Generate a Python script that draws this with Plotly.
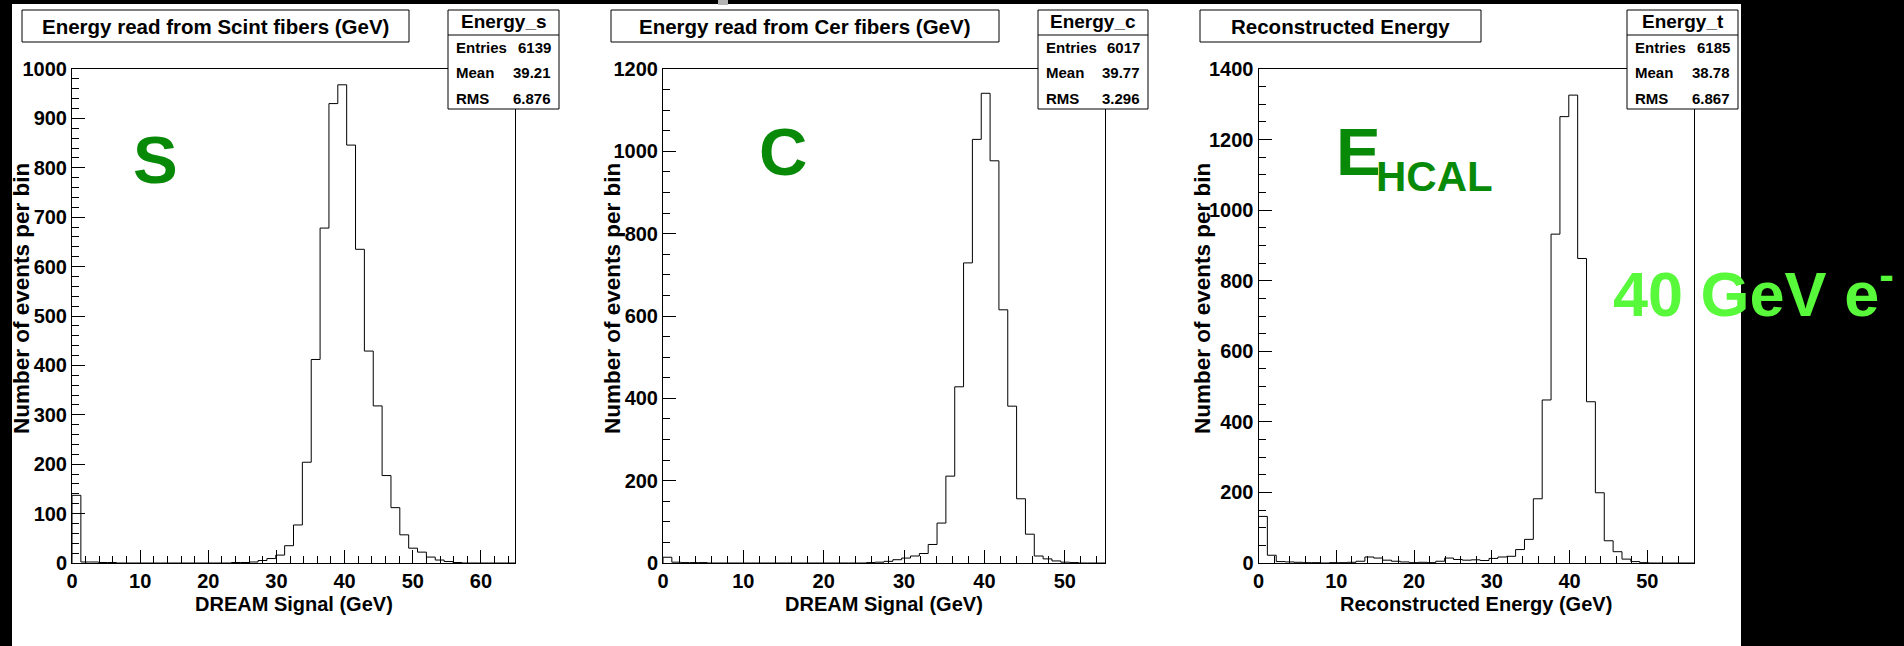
import plotly.graph_objects as go

W, H = 1904, 646
FONT = "Liberation Sans, Arial, Helvetica, sans-serif"

# ---- histogram contents (50 bins each) ----
scint_lo, scint_width = 0.0, 1.3
scint_counts = [137, 2, 2, 1, 1, 0, 0, 0, 0, 0,
                0, 0, 0, 0, 0, 0, 0, 0, 1, 1,
                2, 5, 9, 16, 35, 77, 204, 412, 678, 930,
                968, 846, 635, 429, 318, 177, 112, 57, 30, 22,
                12, 6, 3, 1, 0, 0, 0, 0, 0, 0]

cer_lo, cer_width = 0.0, 1.1
cer_counts = [14, 2, 1, 1, 1, 0, 0, 0, 0, 0,
              0, 0, 0, 0, 0, 0, 0, 0, 0, 0,
              0, 0, 0, 1, 2, 4, 8, 12, 17, 23,
              45, 97, 211, 428, 729, 1029, 1141, 977, 615, 381,
              156, 70, 17, 10, 5, 2, 1, 0, 0, 0]

tot_lo, tot_width = 0.0, 1.14
tot_counts = [132, 22, 4, 3, 2, 1, 1, 0, 1, 1,
              2, 5, 17, 14, 8, 5, 3, 1, 2, 1,
              5, 14, 10, 8, 9, 7, 13, 17, 19, 38,
              67, 182, 462, 932, 1265, 1326, 863, 457, 199, 63,
              32, 11, 4, 1, 0, 0, 0, 0, 0, 0]

# ---- panel text ----
titles = ["Energy read from Scint fibers (GeV)",
          "Energy read from Cer fibers (GeV)",
          "Reconstructed Energy"]
stat_names = ["Energy_s", "Energy_c", "Energy_t"]
stat_entries = ["6139", "6017", "6185"]
stat_means = ["39.21", "39.77", "38.78"]
stat_rms = ["6.876", "3.296", "6.867"]
x_titles = ["DREAM Signal (GeV)", "DREAM Signal (GeV)", "Reconstructed Energy (GeV)"]
y_title = "Number of events per bin"
x_ranges = [[0, 65], [0, 55], [0, 56]]
y_ranges = [[0, 1000], [0, 1200], [0, 1400]]
y_dticks = [100, 200, 200]
y_minor = [20, 50, 50]


def px(x):
    return x / W


def py(y):
    return 1 - y / H


def step_xy(lo, width, counts):
    edges = [lo + i * width for i in range(len(counts) + 1)]
    xs = [edges[0]] + edges[:-1] + [edges[-1], edges[-1]]
    ys = [0] + list(counts) + [counts[-1], 0]
    return xs, ys


# pixel layout of the three pads
frames_x = [(72, 515), (663, 1105), (1258.5, 1694)]
frame_top, frame_bot = 69, 563
title_boxes = [(22, 409), (611, 999), (1200, 1481)]
stat_boxes = [(448, 559), (1038, 1148), (1627, 1738)]
ytitle_x = [21, 612, 1202]

fig = go.Figure()
hists = [(scint_lo, scint_width, scint_counts),
         (cer_lo, cer_width, cer_counts),
         (tot_lo, tot_width, tot_counts)]
for i, (lo, wd, cnt) in enumerate(hists):
    xs, ys = step_xy(lo, wd, cnt)
    sfx = "" if i == 0 else str(i + 1)
    fig.add_trace(go.Scatter(x=xs, y=ys, mode="lines", line_shape="hv",
                             line=dict(color="black", width=1),
                             xaxis="x" + sfx, yaxis="y" + sfx,
                             showlegend=False, hoverinfo="skip"))

tickfont = dict(family=FONT, size=20, color="black", weight="bold")
layout = dict(width=W, height=H,
              margin=dict(l=0, r=0, t=0, b=0, pad=0, autoexpand=False),
              paper_bgcolor="black", plot_bgcolor="white", autosize=False,
              showlegend=False)
for i in range(3):
    sfx = "" if i == 0 else str(i + 1)
    x0, x1 = frames_x[i]
    layout["xaxis" + sfx] = dict(
        domain=[px(x0), px(x1)], range=x_ranges[i], anchor="y" + sfx,
        showline=True, mirror=True, linecolor="black", linewidth=1,
        ticks="inside", ticklen=13, tickwidth=1, tickcolor="black",
        dtick=10, tick0=0, showgrid=False, zeroline=False, tickfont=tickfont,
        automargin=False,
        minor=dict(ticks="inside", ticklen=7, dtick=2, tickcolor="black",
                   showgrid=False))
    layout["yaxis" + sfx] = dict(
        domain=[py(frame_bot), py(frame_top)], range=y_ranges[i],
        anchor="x" + sfx,
        showline=True, mirror=True, linecolor="black", linewidth=1,
        ticks="inside", ticklen=13, tickwidth=1, tickcolor="black",
        dtick=y_dticks[i], tick0=0, showgrid=False, zeroline=False,
        tickfont=tickfont, automargin=False,
        minor=dict(ticks="inside", ticklen=7, dtick=y_minor[i],
                   tickcolor="black", showgrid=False))
fig.update_layout(**layout)

shapes = []
# white canvas inside the black border
shapes.append(dict(type="rect", xref="paper", yref="paper",
                   x0=px(12), x1=px(1741), y0=py(646), y1=py(4),
                   fillcolor="white", line=dict(width=0), layer="below"))
shapes.append(dict(type="rect", xref="paper", yref="paper",
                   x0=px(718), x1=px(728), y0=py(5), y1=py(0),
                   fillcolor="#b4b4b4", line=dict(width=0), layer="below"))

ann = []
for i in range(3):
    bx0, bx1 = title_boxes[i]
    shapes.append(dict(type="rect", xref="paper", yref="paper",
                       x0=px(bx0), x1=px(bx1), y0=py(42), y1=py(10),
                       fillcolor="white", line=dict(color="black", width=1),
                       layer="above"))
    ann.append(dict(text=titles[i], x=px((bx0 + bx1) / 2), y=py(26),
                    xanchor="center", yanchor="middle",
                    font=dict(family=FONT, size=20.5, color="black", weight="bold")))
    sx0, sx1 = stat_boxes[i]
    shapes.append(dict(type="rect", xref="paper", yref="paper",
                       x0=px(sx0), x1=px(sx1), y0=py(109), y1=py(10),
                       fillcolor="white", line=dict(color="black", width=1),
                       layer="above"))
    shapes.append(dict(type="line", xref="paper", yref="paper",
                       x0=px(sx0), x1=px(sx1), y0=py(35), y1=py(35),
                       line=dict(color="black", width=1), layer="above"))
    ann.append(dict(text=stat_names[i], x=px((sx0 + sx1) / 2), y=py(22),
                    xanchor="center", yanchor="middle",
                    font=dict(family=FONT, size=19, color="black", weight="bold")))
    rows = [("Entries", stat_entries[i], 47.5),
            ("Mean", stat_means[i], 73),
            ("RMS", stat_rms[i], 98.5)]
    for name, val, yy in rows:
        ann.append(dict(text=name, x=px(sx0 + 6), y=py(yy), xanchor="left",
                        yanchor="middle",
                        font=dict(family=FONT, size=15, color="black", weight="bold")))
        ann.append(dict(text=val, x=px(sx1 - 6), y=py(yy), xanchor="right",
                        yanchor="middle",
                        font=dict(family=FONT, size=15, color="black", weight="bold")))
    fx0, fx1 = frames_x[i]
    ann.append(dict(text=x_titles[i], x=px((fx0 + fx1) / 2), y=py(604),
                    xanchor="center", yanchor="middle",
                    font=dict(family=FONT, size=20, color="black", weight="bold")))
    ann.append(dict(text=y_title, x=px(ytitle_x[i]), y=py(299), textangle=-90,
                    xanchor="center", yanchor="middle",
                    font=dict(family=FONT, size=22.5, color="black", weight="bold")))

green = "#088a08"
ann.append(dict(text="S", x=px(155), y=py(160), xanchor="center", yanchor="middle",
                font=dict(family=FONT, size=67, color=green, weight="bold")))
ann.append(dict(text="C", x=px(783), y=py(151), xanchor="center", yanchor="middle",
                font=dict(family=FONT, size=67, color=green, weight="bold")))
ann.append(dict(text="E", x=px(1334), y=py(151), xanchor="left", yanchor="middle",
                font=dict(family=FONT, size=67, color=green, weight="bold")))
ann.append(dict(text="HCAL", x=px(1374), y=py(176), xanchor="left", yanchor="middle",
                font=dict(family=FONT, size=42, color=green, weight="bold")))
ann.append(dict(text="40 GeV e<sup>-</sup>", x=px(1611), y=py(289),
                xanchor="left", yanchor="middle",
                font=dict(family=FONT, size=63, color="#58f83a", weight="bold")))

for a in ann:
    a.update(xref="paper", yref="paper", showarrow=False)

fig.update_layout(shapes=shapes, annotations=ann)
fig.write_html("out.html")
